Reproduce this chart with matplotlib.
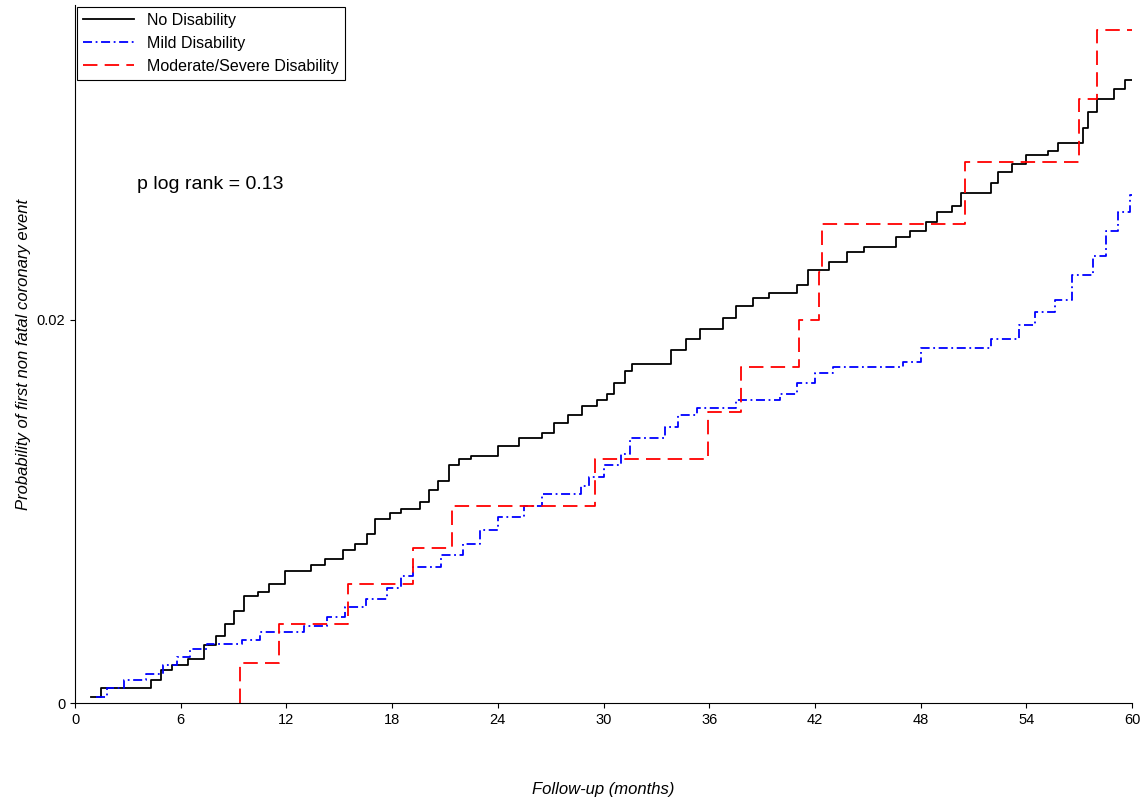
import matplotlib
matplotlib.use("Agg")
import matplotlib.pyplot as plt

plt.rcParams['font.family'] = ['Liberation Sans', 'DejaVu Sans']

# step data: (time in months, cumulative probability)
no_t = [0.9, 1.5, 4.3, 4.9, 5.5, 6.4, 7.3, 8.0, 8.5, 9.0, 9.6, 10.4, 11.0, 11.9, 13.4, 14.2,
        15.2, 15.9, 16.6, 17.0, 17.9, 18.5, 19.6, 20.1, 20.6, 21.2, 21.8, 22.5, 24.0, 25.2,
        26.5, 27.2, 28.0, 28.8, 29.6, 30.2, 30.6, 31.2, 31.6, 33.8, 34.7, 35.5, 36.8, 37.5,
        38.5, 39.4, 41.0, 41.6, 42.8, 43.8, 44.8, 46.6, 47.4, 48.3, 48.9, 49.8, 50.3, 52.0,
        52.4, 53.2, 54.0, 55.2, 55.8, 57.2, 57.5, 58.0, 59.0, 59.6, 60.0]
no_p = [0.0003, 0.0008, 0.0012, 0.0017, 0.0020, 0.0023, 0.0030, 0.0035, 0.0041, 0.0048,
        0.0056, 0.0058, 0.0062, 0.0069, 0.0072, 0.0075, 0.0080, 0.0083, 0.0088, 0.0096,
        0.0099, 0.0101, 0.0105, 0.0111, 0.0116, 0.0124, 0.0127, 0.0129, 0.0134, 0.0138,
        0.0141, 0.0146, 0.0150, 0.0155, 0.0158, 0.0161, 0.0167, 0.0173, 0.0177, 0.0184,
        0.0190, 0.0195, 0.0201, 0.0207, 0.0211, 0.0214, 0.0218, 0.0226, 0.0230, 0.0235,
        0.0238, 0.0243, 0.0246, 0.0251, 0.0256, 0.0259, 0.0266, 0.0271, 0.0277, 0.0281,
        0.0286, 0.0288, 0.0292, 0.0300, 0.0308, 0.0315, 0.0320, 0.0325, 0.0325]

mild_t = [1.2, 1.8, 2.8, 4.0, 5.0, 5.8, 6.5, 7.5, 9.5, 10.5, 13.0, 14.3, 15.3, 16.5, 17.7,
          18.5, 19.2, 20.8, 22.0, 23.0, 24.0, 25.5, 26.5, 28.7, 29.2, 30.0, 31.0, 31.5, 33.5,
          34.2, 35.3, 37.5, 40.0, 41.0, 42.0, 43.0, 47.0, 48.0, 52.0, 53.6, 54.5, 55.6, 56.6,
          57.8, 58.5, 59.2, 59.9, 60.0]
mild_p = [0.0003, 0.0008, 0.0012, 0.0015, 0.0020, 0.0024, 0.0028, 0.0031, 0.0033, 0.0037,
          0.0040, 0.0045, 0.0050, 0.0054, 0.0060, 0.0066, 0.0071, 0.0077, 0.0083, 0.0090,
          0.0097, 0.0103, 0.0109, 0.0113, 0.0118, 0.0124, 0.0130, 0.0138, 0.0144, 0.0150,
          0.0154, 0.0158, 0.0161, 0.0167, 0.0172, 0.0175, 0.0178, 0.0185, 0.0190, 0.0197,
          0.0204, 0.0210, 0.0223, 0.0233, 0.0246, 0.0256, 0.0265, 0.0265]

mod_t = [9.36, 9.36, 11.6, 15.5, 19.2, 21.4, 29.5, 35.9, 37.8, 41.1, 42.2, 42.4, 50.5, 57.0, 58.0, 60.0]
mod_p = [0.0, 0.0021, 0.0041, 0.0062, 0.0081, 0.0103, 0.0127, 0.0152, 0.0175, 0.0200,
         0.0225, 0.0250, 0.0282, 0.0315, 0.0351, 0.0351]

fig = plt.figure(figsize=(11.44, 8.05), dpi=100)
ax = fig.add_axes([0.0656, 0.1267, 0.924, 0.867])

ax.step(no_t, no_p, where='post', color='black', lw=1.3, label='No Disability')
ax.step(mild_t, mild_p, where='post', color='blue', lw=1.3, linestyle=(0, (5, 2, 1, 2)),
        label='Mild Disability')
ax.step(mod_t, mod_p, where='post', color='red', lw=1.3, linestyle=(0, (8, 4)),
        label='Moderate/Severe Disability')

ax.set_xlim(0, 60)
ax.set_ylim(0, 0.0364)
ax.set_xticks(range(0, 61, 6))
ax.set_yticks([0, 0.02])
ax.set_yticklabels(['0', '0.02'])
ax.tick_params(direction='out', labelsize=10.5)
ax.spines['top'].set_visible(False)
ax.spines['right'].set_visible(False)

ax.set_xlabel('Follow-up (months)', fontsize=12, style='italic', labelpad=40)
ax.set_ylabel('Probability of first non fatal coronary event', fontsize=12, style='italic')

ax.text(3.5, 0.02705, 'p log rank = 0.13', fontsize=14, va='center')

leg = ax.legend(loc='upper left', bbox_to_anchor=(0.0, 1.0), fontsize=11.5, fancybox=False,
                edgecolor='black', framealpha=1, handlelength=3.2, borderpad=0.4,
                borderaxespad=0.1)
leg.get_frame().set_linewidth(0.8)

fig.savefig('out.png', dpi=100)
